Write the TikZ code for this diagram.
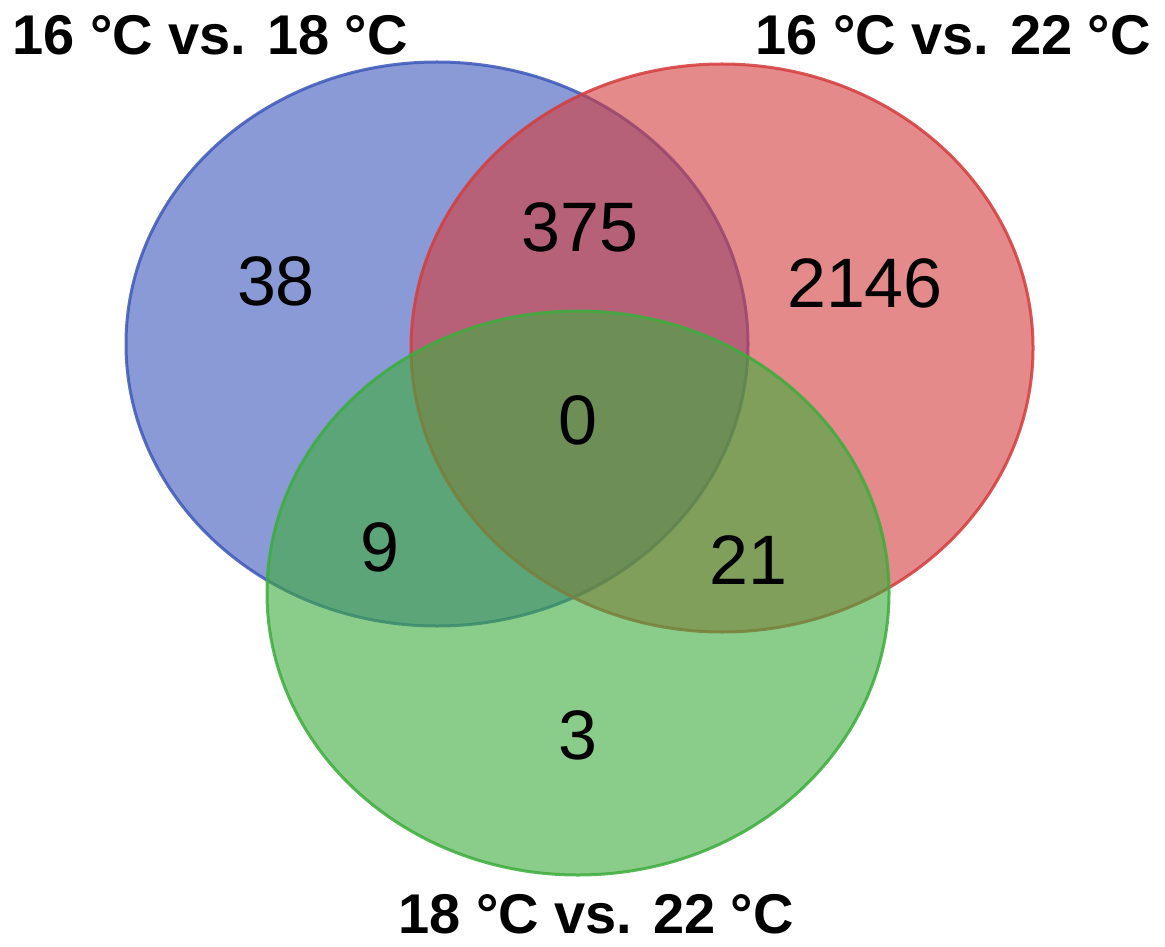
\documentclass[tikz,border=0pt]{standalone}
\usepackage{fontspec}
\setmainfont{Liberation Sans}
\definecolor{vblue}{RGB}{60,88,187}
\definecolor{vred}{RGB}{213,60,60}
\definecolor{vgreen}{RGB}{60,173,60}
\begin{document}
\begin{tikzpicture}[x=0.5pt,y=-0.5pt,
  setshape/.style={fill opacity=0.6,draw opacity=0.85,line width=1.5pt},
  setlabel/.style={font=\bfseries\fontsize{28}{32}\selectfont,inner sep=0pt},
  count/.style={font=\fontsize{35}{40}\selectfont,inner sep=0pt}]
\useasboundingbox (0,0) rectangle (1165,946);
\fill[white] (0,0) rectangle (1165,946);
\draw[setshape,fill=vblue,draw=vblue] (437,344) ellipse [x radius=311, y radius=282];
\draw[setshape,fill=vred,draw=vred] (722,348) ellipse [x radius=311, y radius=284];
\draw[setshape,fill=vgreen,draw=vgreen] (578,593) ellipse [x radius=311, y radius=282];
\node[setlabel] (lA) at (210,35) {16 °C vs. 18 °C};
\node[setlabel] (lB) at (953,35) {16 °C vs. 22 °C};
\node[setlabel] (lC) at (596,914) {18 °C vs. 22 °C};
\node[count] (nA) at (276,281) {38};
\node[count] (nAB) at (580,227) {375};
\node[count] (nB) at (865,283) {2146};
\node[count] (nABC) at (578,420) {0};
\node[count] (nAC) at (380,547) {9};
\node[count] (nBC) at (748,560) {21};
\node[count] (nC) at (578,735) {3};
\end{tikzpicture}
\end{document}
